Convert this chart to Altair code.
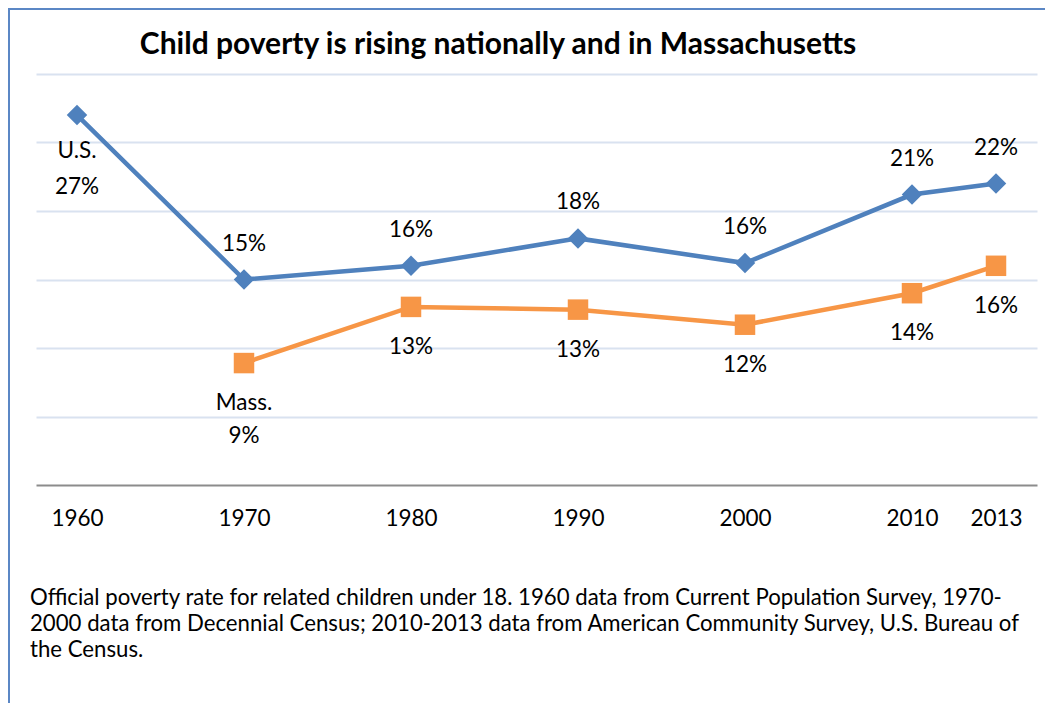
import altair as alt
import pandas as pd

# ---- data ----
years = [1960, 1970, 1980, 1990, 2000, 2010, 2013]
us_values = [27.0, 15.0, 16.0, 18.0, 16.2, 21.2, 22.0]
mass_years = [1970, 1980, 1990, 2000, 2010, 2013]
mass_values = [8.9, 13.0, 12.8, 11.7, 14.0, 16.0]
title_text = "Child poverty is rising nationally and in Massachusetts"
note_lines = [
    "Official poverty rate for related children under 18. 1960 data from Current Population Survey, 1970-",
    "2000 data from Decennial Census; 2010-2013 data from American Community Survey, U.S. Bureau of",
    "the Census.",
]

FONT = "Lato"
BLUE = "#4F81BD"
ORANGE = "#F79646"

us = pd.DataFrame({"year": years, "value": us_values, "series": "U.S."})
ma = pd.DataFrame({"year": mass_years, "value": mass_values, "series": "Mass."})
for df in (us, ma):
    df["pct"] = [f"{round(v)}%" for v in df["value"]]
    df["label"] = [
        (s + "\n" + p) if i == 0 else p
        for i, (s, p) in enumerate(zip(df["series"], df["pct"]))
    ]

W, H = 1001, 411
xscale = alt.Scale(domain=[1957.55, 1960, 2010, 2013, 2014.46],
                   range=[0, 41, 876, 960, W])
yscale = alt.Scale(domain=[0, 30])

X = alt.X("year:Q", scale=xscale,
          axis=alt.Axis(values=years, format="d", title=None, grid=False, ticks=False,
                        labelFontSize=22.5, labelFont=FONT, labelColor="#000000",
                        labelPadding=22, domainColor="#8C8C8C", domainWidth=2,
                        labelFlush=False))
Y = alt.Y("value:Q", scale=yscale,
          axis=alt.Axis(values=[5, 10, 15, 20, 25, 30], labels=False, ticks=False,
                        domain=False, title=None, gridColor="#D9E2F0", gridWidth=2))


def series_layers(df, color, shape, size, dy_other, dy_first, lh):
    base = alt.Chart(df)
    line = base.mark_line(color=color, strokeWidth=4.5).encode(x=X, y=Y)
    pts = base.mark_point(color=color, shape=shape, size=size, filled=True, opacity=1).encode(
        x=alt.X("year:Q", scale=xscale), y=alt.Y("value:Q", scale=yscale))
    first_year = int(df["year"].iloc[0])
    lab_other = base.transform_filter(alt.datum.year != first_year).mark_text(
        font=FONT, fontSize=22.5, color="#000000", dy=dy_other, baseline="middle").encode(
        x=alt.X("year:Q", scale=xscale), y=alt.Y("value:Q", scale=yscale), text="label:N")
    lab_first = base.transform_filter(alt.datum.year == first_year).mark_text(
        font=FONT, fontSize=22.5, color="#000000", dy=dy_first, baseline="middle",
        lineBreak="\n", lineHeight=lh).encode(
        x=alt.X("year:Q", scale=xscale), y=alt.Y("value:Q", scale=yscale), text="label:N")
    return [line, pts, lab_other, lab_first]


us_layers = series_layers(us, BLUE, "diamond", 420, -36, 36, 36)
ma_layers = series_layers(ma, ORANGE, "square", 420, 40, 40, 33)

title = alt.Chart(pd.DataFrame({"t": [title_text]})).mark_text(
    font=FONT, fontSize=30, fontWeight="bold", color="#000000", baseline="middle").encode(
    text="t:N", x=alt.value(462), y=alt.value(-29))

note = alt.Chart(pd.DataFrame({"t": ["\n".join(note_lines)]})).mark_text(
    font=FONT, fontSize=22.2, color="#000000", align="left", baseline="middle",
    lineBreak="\n", lineHeight=26).encode(
    text="t:N", x=alt.value(-6), y=alt.value(524))

border_left = alt.Chart(pd.DataFrame({"a": [0]})).mark_rule(color="#5B87C5", strokeWidth=2).encode(
    x=alt.value(-27), y=alt.value(-66), y2=alt.value(H + 218))
border_top = alt.Chart(pd.DataFrame({"a": [0]})).mark_rule(color="#5B87C5", strokeWidth=2).encode(
    y=alt.value(-65), x=alt.value(-28), x2=alt.value(W + 8))

chart = alt.layer(
    *(us_layers[:1] + ma_layers[:1] + us_layers[1:] + ma_layers[1:]),
    title, note, border_left, border_top,
).properties(
    width=W, height=H,
    background="white",
    autosize=alt.AutoSizeParams(type="none"),
    padding={"left": 28, "top": 66, "right": 8, "bottom": 218},
).configure_view(strokeWidth=0, stroke=None)

chart.save("out.html", embed_options={"renderer": "svg", "actions": False})
